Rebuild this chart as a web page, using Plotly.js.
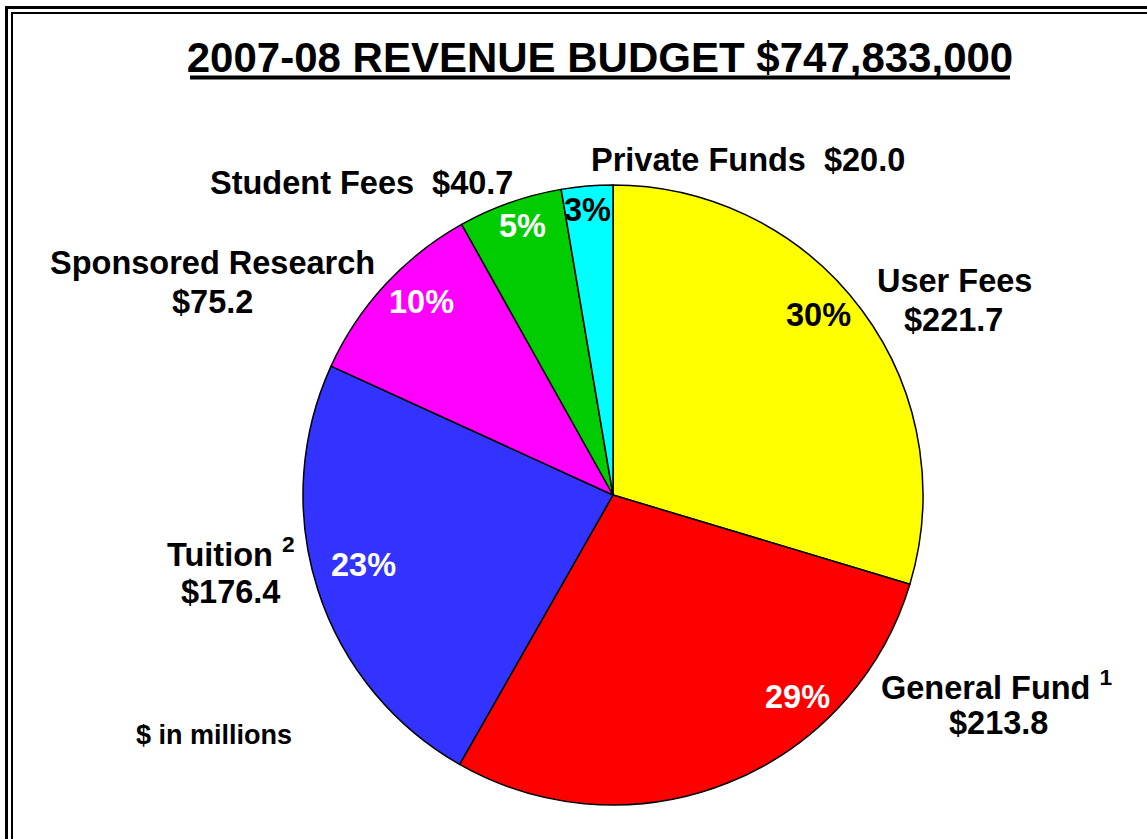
<!DOCTYPE html>
<html>
<head>
<meta charset="utf-8">
<script src="https://cdn.plot.ly/plotly-3.0.1.min.js"></script>
<style>
  html, body { margin: 0; padding: 0; background: #ffffff; }
  #chart { width: 1147px; height: 839px; }
</style>
</head>
<body>
<div id="chart"></div>
<script>
// Revenue sources, $ in millions (clockwise from 12 o'clock)
const sources = ["User Fees", "General Fund <sup>1</sup>", "Tuition <sup>2</sup>",
                 "Sponsored Research", "Student Fees", "Private Funds"];
const amounts = [221.7, 213.8, 176.4, 75.2, 40.7, 20.0];
const shareLabels = ["30%", "29%", "23%", "10%", "5%", "3%"];
const sliceColors = ["#FFFF00", "#FF0000", "#3333FF", "#FF00FF", "#00CC00", "#00FFFF"];
const shareTextColors = ["#000000", "#FFFFFF", "#FFFFFF", "#FFFFFF", "#FFFFFF", "#000000"];
const chartTitle = "2007-08 REVENUE BUDGET $747,833,000";
const unitNote = "$ in millions";

const W = 1147, H = 839;
const px = x => x / W;
const py = y => 1 - y / H;
const FONT = "Liberation Sans, Arial, Helvetica, sans-serif";
const LABEL_SIZE = 32.5;

// Label placement (pixel anchors) for each source: name line, amount line, share text
const layoutSpots = [
  { name: [954, 281], amt: [953, 320], share: [818, 315], oneLine: false },
  { name: [997, 685], amt: [998, 723], share: [797, 697], oneLine: false },
  { name: [231, 552], amt: [230, 592], share: [363, 565], oneLine: false },
  { name: [212, 263], amt: [212, 302], share: [421, 302], oneLine: false },
  { name: [361, 183], amt: null,       share: [522, 226], oneLine: true },
  { name: [748, 160], amt: null,       share: [587, 210], oneLine: true }
];

const annotations = [];
const baseFont = { family: FONT, size: LABEL_SIZE, color: "#000000", weight: "bold" };

sources.forEach((src, i) => {
  const spot = layoutSpots[i];
  const money = "$" + amounts[i].toFixed(1);
  if (spot.oneLine) {
    annotations.push({
      x: px(spot.name[0]), y: py(spot.name[1]), xref: "paper", yref: "paper",
      text: src + "  " + money, showarrow: false, xanchor: "center", yanchor: "middle",
      font: baseFont
    });
  } else {
    annotations.push({
      x: px(spot.name[0]), y: py(spot.name[1]), xref: "paper", yref: "paper",
      text: src, showarrow: false, xanchor: "center", yanchor: "middle",
      font: baseFont
    });
    annotations.push({
      x: px(spot.amt[0]), y: py(spot.amt[1]), xref: "paper", yref: "paper",
      text: money, showarrow: false, xanchor: "center", yanchor: "middle",
      font: baseFont
    });
  }
  annotations.push({
    x: px(spot.share[0]), y: py(spot.share[1]), xref: "paper", yref: "paper",
    text: shareLabels[i], showarrow: false, xanchor: "center", yanchor: "middle",
    font: { family: FONT, size: LABEL_SIZE, color: shareTextColors[i], weight: "bold" }
  });
});

annotations.push({
  x: px(214), y: py(735), xref: "paper", yref: "paper",
  text: unitNote, showarrow: false, xanchor: "center", yanchor: "middle",
  font: { family: FONT, size: 27, color: "#000000", weight: "bold" }
});

// Double-rule frame along the left and top edges, plus the heavy title underline
const shapes = [
  { type: "line", xref: "paper", yref: "paper", x0: px(6.5), x1: px(6.5), y0: py(6), y1: py(900), line: { color: "#000", width: 3 } },
  { type: "line", xref: "paper", yref: "paper", x0: px(5), x1: px(1200), y0: py(7.5), y1: py(7.5), line: { color: "#000", width: 3 } },
  { type: "line", xref: "paper", yref: "paper", x0: px(12), x1: px(12), y0: py(12), y1: py(900), line: { color: "#000", width: 2 } },
  { type: "line", xref: "paper", yref: "paper", x0: px(11), x1: px(1200), y0: py(13), y1: py(13), line: { color: "#000", width: 2 } },
  { type: "line", xref: "paper", yref: "paper", x0: px(190), x1: px(1010), y0: py(77.5), y1: py(77.5), line: { color: "#000", width: 4 } }
];

const trace = {
  type: "pie",
  values: amounts,
  labels: sources,
  sort: false,
  direction: "clockwise",
  rotation: 0,
  textinfo: "none",
  hoverinfo: "label+value",
  marker: { colors: sliceColors, line: { color: "#000000", width: 1.5 } },
  domain: { x: [px(303), px(923)], y: [py(805), py(185)] },
  showlegend: false
};

const layout = {
  width: W, height: H,
  margin: { l: 0, r: 0, t: 0, b: 0 },
  paper_bgcolor: "#ffffff",
  showlegend: false,
  title: {
    text: chartTitle,
    x: px(600), y: py(57), xref: "paper", yref: "paper",
    xanchor: "center", yanchor: "middle",
    font: { family: FONT, size: 42, color: "#000000", weight: "bold" }
  },
  annotations: annotations,
  shapes: shapes
};

Plotly.newPlot("chart", [trace], layout, { displayModeBar: false, staticPlot: true });
</script>
</body>
</html>
